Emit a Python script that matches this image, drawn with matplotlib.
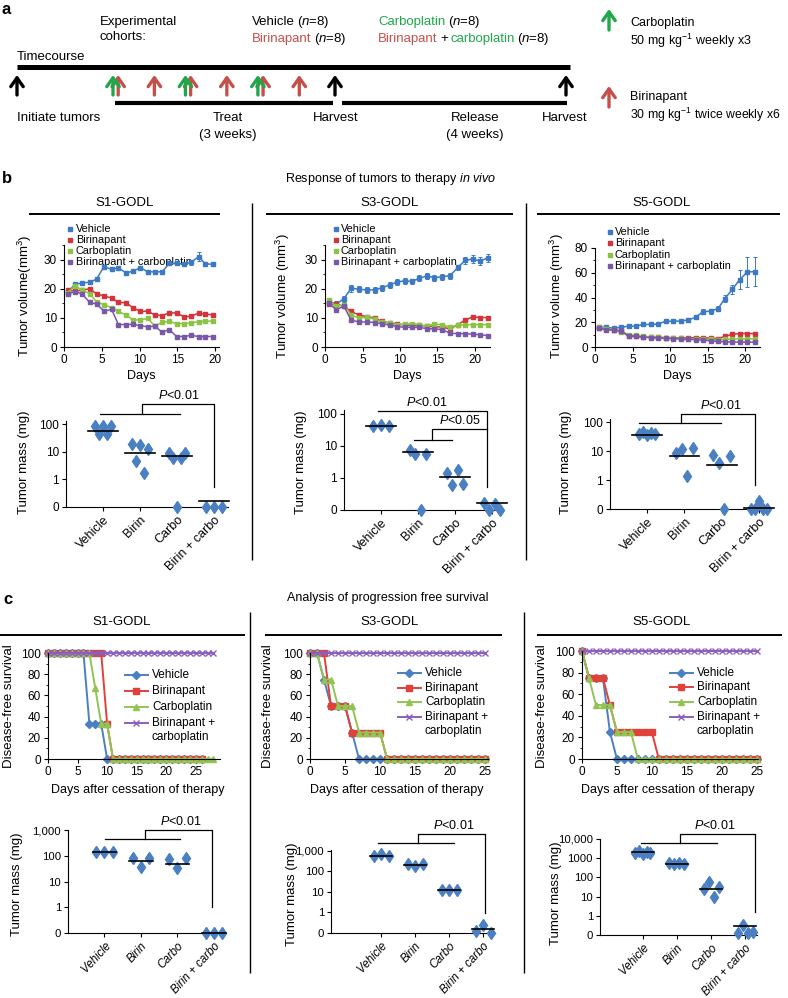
import numpy as np
import matplotlib
matplotlib.use("Agg")
import matplotlib.pyplot as plt
from matplotlib.ticker import MultipleLocator, NullLocator

plt.rcParams['font.family'] = ['Liberation Sans', 'DejaVu Sans']
plt.rcParams['mathtext.fontset'] = 'custom'
plt.rcParams['mathtext.rm'] = 'Liberation Sans'
plt.rcParams['mathtext.it'] = 'Liberation Sans:italic'
plt.rcParams['mathtext.bf'] = 'Liberation Sans:bold'
plt.rcParams['font.size'] = 8.5
plt.rcParams['axes.linewidth'] = 0.8
for k in ('xtick', 'ytick'):
    plt.rcParams[k + '.major.width'] = 0.8
    plt.rcParams[k + '.major.size'] = 3
    plt.rcParams[k + '.minor.size'] = 1.8
    plt.rcParams[k + '.labelsize'] = 8.5
    plt.rcParams[k + '.major.pad'] = 2

# ---------------- data ----------------
groups = ['Vehicle', 'Birinapant', 'Carboplatin', 'Birinapant + carboplatin']
mass_cats = ['Vehicle', 'Birin', 'Carbo', 'Birin + carbo']

# panel a: dosing days within the 3 week treatment window
carbo_days = [0, 7, 14]
birin_days = [0.5, 4, 7.5, 11, 14.5, 18]

# panel b: tumour volume (mm3) over time
s1_days = [0.5, 1.5, 2.4, 3.4, 4.3, 5.3, 6.3, 7.2, 8.2, 9.1, 10.1, 11.1, 12.0, 13.0, 13.9, 14.9, 15.9, 16.8, 17.8, 18.7, 19.7]
s1_vehicle = [19.0, 21.5, 22.0, 22.2, 23.3, 27.6, 26.6, 27.2, 25.4, 26.0, 27.2, 25.8, 25.8, 25.8, 28.7, 28.7, 28.4, 29.0, 31.0, 28.5, 28.4]
s1_birin = [19.5, 19.3, 19.5, 20.0, 18.2, 17.5, 16.8, 15.3, 15.2, 13.5, 12.2, 12.3, 11.0, 10.8, 11.7, 11.7, 10.3, 10.6, 11.6, 11.2, 11.1]
s1_carbo = [18.7, 21.0, 19.5, 18.3, 15.5, 14.5, 13.5, 12.2, 11.0, 9.3, 9.3, 9.8, 7.2, 8.5, 8.8, 8.0, 8.0, 8.2, 8.7, 8.9, 8.9]
s1_combo = [18.3, 19.0, 18.2, 15.3, 14.8, 12.3, 12.9, 7.7, 7.7, 7.8, 7.3, 6.9, 7.2, 5.0, 6.0, 3.6, 3.6, 4.0, 3.6, 3.6, 3.6]
s1_vehicle_err = [0.6, 0.8, 0.6, 0.6, 0.7, 0.7, 0.6, 0.6, 0.6, 0.6, 0.6, 0.6, 0.6, 0.6, 0.7, 0.7, 0.6, 0.8, 1.5, 0.7, 0.6]
s1_treated_err = 0.6

s3_days = [0.5, 1.5, 2.5, 3.5, 4.5, 5.6, 6.6, 7.6, 8.6, 9.6, 10.6, 11.6, 12.6, 13.6, 14.6, 15.6, 16.7, 17.7, 18.7, 19.7, 20.7, 21.7]
s3_vehicle = [15.5, 14.8, 16.5, 20.2, 19.8, 19.6, 19.6, 20.3, 21.3, 22.3, 22.7, 22.5, 23.6, 24.4, 23.8, 24.1, 24.5, 27.3, 29.7, 30.2, 29.5, 30.6]
s3_birin = [14.8, 14.6, 14.0, 12.2, 11.0, 10.4, 10.0, 8.8, 8.3, 7.9, 7.6, 7.4, 7.4, 7.2, 7.0, 6.8, 6.2, 7.7, 9.2, 10.4, 10.1, 10.1]
s3_carbo = [16.0, 14.0, 14.5, 11.0, 10.0, 10.2, 9.6, 8.5, 8.2, 7.6, 7.8, 8.0, 7.6, 7.2, 7.9, 7.6, 6.8, 7.5, 7.6, 7.7, 7.7, 7.7]
s3_combo = [15.0, 12.8, 14.0, 9.2, 8.6, 8.6, 8.4, 8.0, 7.5, 7.0, 6.8, 6.8, 6.7, 6.3, 6.2, 6.0, 4.7, 4.6, 4.6, 4.4, 4.2, 3.9]
s3_vehicle_err = [0.8, 1.0, 1.0, 1.2, 1.0, 1.0, 1.0, 1.0, 1.0, 1.0, 1.0, 0.8, 1.0, 1.0, 1.0, 1.0, 1.0, 1.0, 1.2, 1.3, 1.3, 1.4]
s3_treated_err = 0.6

s5_days = [0.5, 1.5, 2.5, 3.5, 4.5, 5.4, 6.4, 7.4, 8.4, 9.4, 10.4, 11.4, 12.4, 13.4, 14.4, 15.4, 16.4, 17.3, 18.3, 19.3, 20.3, 21.3]
s5_vehicle = [16.0, 15.8, 15.2, 16.0, 16.8, 16.8, 18.2, 18.2, 18.5, 20.8, 20.8, 21.0, 21.8, 24.0, 28.5, 29.0, 31.0, 39.0, 46.5, 54.5, 60.5, 61.0]
s5_birin = [15.5, 14.8, 13.5, 13.0, 8.5, 8.6, 8.2, 8.0, 7.8, 7.5, 7.5, 7.4, 7.4, 7.6, 7.4, 7.2, 6.8, 8.6, 10.2, 10.9, 10.9, 10.8]
s5_carbo = [16.5, 14.8, 13.8, 12.5, 9.8, 9.5, 8.5, 8.2, 7.8, 7.5, 7.3, 7.0, 6.8, 6.6, 6.4, 6.2, 6.0, 6.2, 6.5, 6.6, 6.6, 6.6]
s5_combo = [15.0, 14.0, 13.8, 12.8, 9.0, 8.8, 8.0, 7.6, 7.3, 7.0, 6.8, 6.5, 6.2, 6.0, 5.6, 5.0, 4.5, 4.2, 4.0, 4.0, 3.9, 3.9]
s5_vehicle_err = [1.5, 1.5, 1.2, 1.2, 1.2, 1.2, 1.2, 1.2, 1.2, 1.2, 1.2, 1.2, 1.2, 1.5, 2.0, 2.0, 2.0, 3.0, 4.0, 8.0, 12.0, 12.0]
s5_treated_err = 1.0

# panel b: tumour mass at harvest (mg); 0.1 is the "0" row of the axis
b1_mass = [[85, 45, 85, 45, 85], [19.8, 4.6, 17.7, 1.7, 12.3], [9, 6, 0.1, 6, 9], [0.1, 0.1, 0.1]]
b1_mass_line = [57, 9.3, 7.0, 0.17]
b3_mass = [[40, 44, 40], [7.5, 5.6, 0.1, 5.6], [1.4, 0.6, 1.7, 0.65], [0.17, 0.1, 0.15, 0.1]]
b3_mass_line = [40, 6.2, 1.1, 0.17]
b5_mass = [[40, 45, 35, 42, 40], [9, 12, 1.4, 12.5], [7.5, 4, 0.1, 7], [0.1, 0.1, 0.19, 0.1, 0.1]]
b5_mass_line = [37, 7.0, 3.3, 0.11]

# panel c: disease-free survival (%) by day after cessation of therapy
c_days = [0, 1, 2, 3, 4, 5, 6, 7, 8, 9, 10, 11, 12, 13, 14, 15, 16, 17, 18, 19, 20, 21, 22, 23, 24, 25, 26, 27, 28]
c1_vehicle = [100, 100, 100, 100, 100, 100, 100, 33.3, 33.3, 33.3, 0, 0, 0, 0, 0, 0, 0, 0, 0, 0, 0, 0, 0, 0, 0, 0, 0]
c1_birin = [100, 100, 100, 100, 100, 100, 100, 100, 100, 100, 33.3, 0, 0, 0, 0, 0, 0, 0, 0, 0, 0, 0, 0, 0, 0, 0, 0]
c1_carbo = [100, 100, 100, 100, 100, 100, 100, 100, 66.7, 33.3, 33.3, 0, 0, 0, 0, 0, 0, 0, 0, 0, 0, 0, 0, 0, 0, 0, 0, 0, 0]
c1_combo = [100, 100, 100, 100, 100, 100, 100, 100, 100, 100, 100, 100, 100, 100, 100, 100, 100, 100, 100, 100, 100, 100, 100, 100, 100, 100, 100, 100, 100]
c3_vehicle = [100, 100, 75, 50, 50, 50, 25, 0, 0, 0, 0, 0, 0, 0, 0, 0, 0, 0, 0, 0, 0, 0, 0, 0, 0, 0]
c3_birin = [100, 100, 100, 50, 50, 50, 25, 25, 25, 25, 25, 0, 0, 0, 0, 0, 0, 0, 0, 0, 0, 0, 0, 0, 0, 0]
c3_carbo = [100, 100, 75, 75, 50, 50, 50, 25, 25, 25, 25, 0, 0, 0, 0, 0, 0, 0, 0, 0, 0, 0, 0, 0, 0, 0]
c3_combo = [100, 100, 100, 100, 100, 100, 100, 100, 100, 100, 100, 100, 100, 100, 100, 100, 100, 100, 100, 100, 100, 100, 100, 100, 100, 100]
c5_vehicle = [100, 75, 75, 75, 25, 0, 0, 0, 0, 0, 0, 0, 0, 0, 0, 0, 0, 0, 0, 0, 0, 0, 0, 0, 0, 0]
c5_birin = [100, 75, 75, 75, 50, 25, 25, 25, 25, 25, 25, 0, 0, 0, 0, 0, 0, 0, 0, 0, 0, 0, 0, 0, 0, 0]
c5_carbo = [100, 75, 50, 50, 50, 25, 25, 25, 0, 0, 0, 0, 0, 0, 0, 0, 0, 0, 0, 0, 0, 0, 0, 0, 0, 0]
c5_combo = [100, 100, 100, 100, 100, 100, 100, 100, 100, 100, 100, 100, 100, 100, 100, 100, 100, 100, 100, 100, 100, 100, 100, 100, 100, 100]

# panel c: tumour mass after release (mg)
c1_mass = [[140, 140, 140], [79, 37, 79], [72, 32, 79], [0.1, 0.1, 0.1]]
c1_mass_line = [140, 60, 48, 0.1]
c3_mass = [[560, 680, 560], [230, 180, 230], [13, 12, 13], [0.13, 0.25, 0.1]]
c3_mass_line = [560, 210, 13, 0.15]
c5_mass = [[1900, 2300, 1700, 2200, 1900], [550, 480, 550, 480], [25, 55, 10, 30], [0.13, 0.33, 0.12, 0.14]]
c5_mass_line = [2000, 520, 25, 0.3]

# ---------------- styling ----------------
VOL_COLORS = ['#3c7ac6', '#d4333b', '#8bc443', '#7a58a8']
SURV_COLORS = ['#4a7fc1', '#e0413a', '#92c453', '#8a5fbd']
SURV_MARKERS = [('D', 3.6), ('s', 3.8), ('^', 4.4), ('x', 4.2)]
DIAMOND = '#4a80c2'
RED_A = '#c4504a'
GREEN_A = '#1fa84a'

W, H = 788, 998
fig = plt.figure(figsize=(W / 100, H / 100), dpi=100)
ov = fig.add_axes([0, 0, 1, 1])
ov.set_xlim(0, W)
ov.set_ylim(H, 0)
ov.axis('off')
renderer = fig.canvas.get_renderer()


def add_ax(x0, y0, x1, y1):
    ax = fig.add_axes([x0 / W, 1 - y1 / H, (x1 - x0) / W, (y1 - y0) / H])
    ax.patch.set_visible(False)
    ax.spines['top'].set_visible(False)
    ax.spines['right'].set_visible(False)
    return ax


def T(x, y, s, **kw):
    kw.setdefault('va', 'center')
    return ov.text(x, y, s, **kw)


def L(xs, ys, lw=1.0, color='k'):
    ov.plot(xs, ys, color=color, lw=lw, solid_capstyle='butt')


def pieces(x, y, parts, size=9.5, gap=2.6):
    for s, c in parts:
        t = T(x, y, s, color=c, fontsize=size)
        x += t.get_window_extent(renderer=renderer).width + gap


def arrow(x, y_tail, y_head, color):
    ov.annotate('', xy=(x, y_head), xytext=(x, y_tail),
                arrowprops=dict(arrowstyle='->,head_length=0.45,head_width=0.32', color=color,
                                lw=2.4, shrinkA=0, shrinkB=0, mutation_scale=14))


# ---------------- panel a ----------------
T(2, 9, 'a', fontsize=12, fontweight='bold')
T(100, 22, 'Experimental', fontsize=9.5)
T(100, 37, 'cohorts:', fontsize=9.5)
pieces(252, 22, [('Vehicle', 'k'), ('($n$=8)', 'k')])
pieces(252, 39, [('Birinapant', RED_A), ('($n$=8)', 'k')])
pieces(378, 22, [('Carboplatin', GREEN_A), ('($n$=8)', 'k')])
pieces(378, 39, [('Birinapant', RED_A), ('+', 'k'), ('carboplatin', GREEN_A), ('($n$=8)', 'k')])
T(17, 57, 'Timecourse', fontsize=9.5)
L([17, 570], [67, 67], lw=3.6)
L([115, 333], [103, 103], lw=3.0)
L([342, 567], [103, 103], lw=3.0)


def treat_x(d):
    return 113 + d * 10.35


for xa in (17, 335, 566):
    arrow(xa, 95, 75, 'k')
for d in birin_days:
    arrow(treat_x(d), 95, 75, RED_A)
for d in carbo_days:
    arrow(treat_x(d), 95, 75, GREEN_A)
T(17, 118, 'Initiate tumors', fontsize=9.5)
T(228, 118, 'Treat', fontsize=9.5, ha='center')
T(228, 135, '(3 weeks)', fontsize=9.5, ha='center')
T(336, 118, 'Harvest', fontsize=9.5, ha='center')
T(475, 118, 'Release', fontsize=9.5, ha='center')
T(475, 135, '(4 weeks)', fontsize=9.5, ha='center')
T(565, 118, 'Harvest', fontsize=9.5, ha='center')
arrow(609, 30, 9, GREEN_A)
T(630, 23, 'Carboplatin', fontsize=9)
T(630, 41, '50 mg kg$^{-1}$ weekly x3', fontsize=9)
arrow(609, 107, 86, RED_A)
T(630, 97, 'Birinapant', fontsize=9)
T(630, 115, '30 mg kg$^{-1}$ twice weekly x6', fontsize=8.8)

# ---------------- panel b ----------------
T(2, 178, 'b', fontsize=12, fontweight='bold')
T(391, 179, 'Response of tumors to therapy $in\\ vivo$', fontsize=9, ha='center')
for xc, name in ((125, 'S1-GODL'), (390, 'S3-GODL'), (662, 'S5-GODL')):
    T(xc, 203, name, fontsize=9.5, ha='center')
L([29, 220], [214, 214], lw=1.4)
L([266, 513], [214, 214], lw=1.4)
L([537, 780], [214, 214], lw=1.4)
L([252, 252], [203, 560])
L([526, 526], [203, 560])


def vol_axes(box, days, series, errs, ylim, ymaj, ymin, xlim):
    ax = add_ax(*box)
    for vals, err, c in zip(series, errs, VOL_COLORS):
        ax.errorbar(days, vals, yerr=err, color=c, lw=1.1, marker='s', ms=2.2,
                    elinewidth=0.7, capsize=1.4, capthick=0.7, clip_on=False)
    ax.set_xlim(xlim)
    ax.set_ylim(ylim)
    ax.xaxis.set_major_locator(MultipleLocator(5))
    ax.yaxis.set_major_locator(MultipleLocator(ymaj))
    ax.yaxis.set_minor_locator(MultipleLocator(ymin))
    return ax


def vol_legend(xm, xt, ys):
    for y, g, c in zip(ys, groups, VOL_COLORS):
        ov.plot([xm], [y], 's', color=c, ms=2.2)
        T(xt, y, g, fontsize=7.8)


vol_axes((64, 245, 219, 347), s1_days, [s1_vehicle, s1_birin, s1_carbo, s1_combo],
         [s1_vehicle_err, s1_treated_err, s1_treated_err, s1_treated_err], (0, 35), 10, 5, (0, 20.5))
vol_axes((325, 245, 490, 347), s3_days, [s3_vehicle, s3_birin, s3_carbo, s3_combo],
         [s3_vehicle_err, s3_treated_err, s3_treated_err, s3_treated_err], (0, 35), 10, 5, (0, 22))
vol_axes((595, 248, 760, 347), s5_days, [s5_vehicle, s5_birin, s5_carbo, s5_combo],
         [s5_vehicle_err, s5_treated_err, s5_treated_err, s5_treated_err], (0, 80), 20, 10, (0, 22))
vol_legend(70, 76, [229, 240, 251, 262])
vol_legend(336, 341, [229, 240, 251, 262])
vol_legend(610, 615, [232, 243, 255, 266])
T(25, 296, 'Tumor volume(mm$^3$)', rotation=90, ha='center', fontsize=9.5)
T(283, 296, 'Tumor volume (mm$^3$)', rotation=90, ha='center', fontsize=9.5)
T(557, 296, 'Tumor volume (mm$^3$)', rotation=90, ha='center', fontsize=9.5)
for xc in (141, 407, 677):
    T(xc, 376, 'Days', ha='center', fontsize=9)


def mass_axes(box, data, lines, ylim, ticks, ticklabels, xlim, half=0.4, rot=45,
              italic=False, catsize=9, ticksize=8.5):
    ax = add_ax(*box)
    ax.set_yscale('log')
    ax.set_ylim(ylim)
    ax.set_xlim(xlim)
    for i, vals in enumerate(data, start=1):
        offs = np.linspace(-0.22, 0.22, len(vals))
        ax.plot(i + offs, vals, 'd', color=DIAMOND, ms=6, mec=DIAMOND, clip_on=False, zorder=3)
        ax.plot([i - half, i + half], [lines[i - 1], lines[i - 1]], color='k', lw=1.2,
                clip_on=False, zorder=4)
    ax.set_yticks(ticks)
    ax.set_yticklabels(ticklabels, fontsize=ticksize)
    ax.yaxis.set_minor_locator(NullLocator())
    ax.set_xticks(range(1, 5))
    ax.set_xticklabels(mass_cats, rotation=rot, ha='right', rotation_mode='anchor',
                       style='italic' if italic else 'normal', fontsize=catsize)
    return ax


def bracket(ax, ga, gb, gm, xr, y1, y2, y3, tx, label='$P$<0.01'):
    kw = dict(color='k', lw=0.9, clip_on=False)
    ax.plot([ga, gb], [y1, y1], **kw)
    ax.plot([gm, gm, xr, xr], [y1, y2, y2, y3], **kw)
    ax.annotate(label, (tx, y2), xytext=(0, 1.5), textcoords='offset points',
                ha='center', va='bottom', annotation_clip=False, fontsize=9)


tk_b = [0.1, 1, 10, 100]
tl_b = ['0', '1', '10', '100']
ax = mass_axes((66, 421, 228, 507), b1_mass, b1_mass_line, (0.1, 130), tk_b, tl_b, (0, 4.38))
bracket(ax, 0.92, 3.08, 2.05, 4.0, 230, 530, 0.55, 3.05)
ax = mass_axes((344, 410, 502, 510), b3_mass, b3_mass_line, (0.1, 130), tk_b, tl_b, (0, 4.27))
kw = dict(color='k', lw=0.9, clip_on=False)
ax.plot([0.92, 3.86, 3.86], [124, 124, 0.52], **kw)
ax.plot([1.89, 2.92], [15.4, 15.4], **kw)
ax.plot([2.38, 2.38, 3.86], [15.4, 34, 34], **kw)
ax.annotate('$P$<0.01', (2.24, 124), xytext=(0, 1.5), textcoords='offset points',
            ha='center', va='bottom', annotation_clip=False, fontsize=9)
ax.annotate('$P$<0.05', (3.14, 34), xytext=(0, 1.0), textcoords='offset points',
            ha='center', va='bottom', annotation_clip=False, fontsize=9)
ax = mass_axes((610, 419, 770, 509), b5_mass, b5_mass_line, (0.1, 130), tk_b, tl_b, (0, 4.3))
bracket(ax, 0.78, 2.97, 1.92, 3.89, 92, 189, 0.67, 2.97)
for xc in (24, 301, 566):
    T(xc, 462, 'Tumor mass (mg)', rotation=90, ha='center', fontsize=9.5)

# ---------------- panel c ----------------
T(3, 600, 'c', fontsize=12, fontweight='bold')
T(388, 598, 'Analysis of progression free survival', fontsize=9, ha='center')
for xc, name in ((122, 'S1-GODL'), (390, 'S3-GODL'), (662, 'S5-GODL')):
    T(xc, 622, name, fontsize=9.5, ha='center')
L([0, 245], [635, 635], lw=1.4)
L([265, 502], [635, 635], lw=1.4)
L([537, 782], [635, 635], lw=1.4)
L([250, 250], [612, 973])
L([524, 524], [612, 973])


def surv_axes(box, series, xlim):
    ax = add_ax(*box)
    for vals, c, (m, ms) in zip(series, SURV_COLORS, SURV_MARKERS):
        ax.plot(c_days[:len(vals)], vals, color=c, lw=1.4, marker=m, ms=ms, mew=1.0,
                mec=c, clip_on=False)
    ax.set_xlim(xlim)
    ax.set_ylim(0, 100)
    ax.xaxis.set_major_locator(MultipleLocator(5))
    ax.yaxis.set_major_locator(MultipleLocator(20))
    ax.yaxis.set_minor_locator(MultipleLocator(10))
    return ax


def surv_legend(x0, ys, y_extra):
    for y, g, c, (m, ms) in zip(ys, ['Vehicle', 'Birinapant', 'Carboplatin', 'Birinapant +'],
                                SURV_COLORS, SURV_MARKERS):
        ov.plot([x0, x0 + 23], [y, y], color=c, lw=1.4)
        ov.plot([x0 + 11.5], [y], marker=m, ms=ms, color=c, mec=c, mew=1.0)
        T(x0 + 27, y, g, fontsize=8.5)
    T(x0 + 27, y_extra, 'carboplatin', fontsize=8.5)


surv_axes((48, 653, 220, 759), [c1_vehicle, c1_birin, c1_carbo, c1_combo], (0, 29.1))
surv_axes((310, 653, 488, 759), [c3_vehicle, c3_birin, c3_carbo, c3_combo], (0, 25.4))
surv_axes((582, 651, 758, 759), [c5_vehicle, c5_birin, c5_carbo, c5_combo], (0, 25.2))
surv_legend(125, [675, 691, 707, 723], 737)
surv_legend(398, [673, 688, 702, 717], 731)
surv_legend(670, [673, 687, 702, 717], 731)
for xc in (9, 268, 542):
    T(xc, 706, 'Disease-free survival', rotation=90, ha='center', fontsize=9.5)
for xc in (138, 397, 668):
    T(xc, 790, 'Days after cessation of therapy', ha='center', fontsize=9)

ax = mass_axes((68, 830, 222, 933), c1_mass, c1_mass_line, (0.1, 1000),
               [0.1, 1, 10, 100, 1000], ['0', '1', '10', '100', '1,000'], (0, 4.22),
               half=0.32, rot=47, italic=True, catsize=8.3, ticksize=8.2)
bracket(ax, 1.01, 3.07, 2.1, 3.95, 447, 1000, 1.0, 3.1)
ax = mass_axes((331, 850, 495, 933), c3_mass, c3_mass_line, (0.1, 1100),
               [0.1, 1, 10, 100, 1000], ['0', '1', '10', '100', '1,000'], (-0.47, 4.35),
               half=0.32, rot=47, italic=True, catsize=8.3, ticksize=8.2)
bracket(ax, 0.91, 3.15, 2.09, 4.06, 2430, 6600, 0.91, 3.15)
ax = mass_axes((600, 839, 757, 935), c5_mass, c5_mass_line, (0.1, 10000),
               [0.1, 1, 10, 100, 1000, 10000], ['0', '1', '10', '100', '1000', '10,000'],
               (-0.26, 4.35), half=0.32, rot=47, italic=True, catsize=8.3, ticksize=8.2)
bracket(ax, 0.94, 3.18, 2.09, 4.3, 6200, 18000, 1.5, 3.1)
T(17, 884, 'Tumor mass (mg)', rotation=90, ha='center', fontsize=9.5)
T(292, 894, 'Tumor mass (mg)', rotation=90, ha='center', fontsize=9.5)
T(556, 893, 'Tumor mass (mg)', rotation=90, ha='center', fontsize=9.5)

fig.savefig('out.png', dpi=100)
